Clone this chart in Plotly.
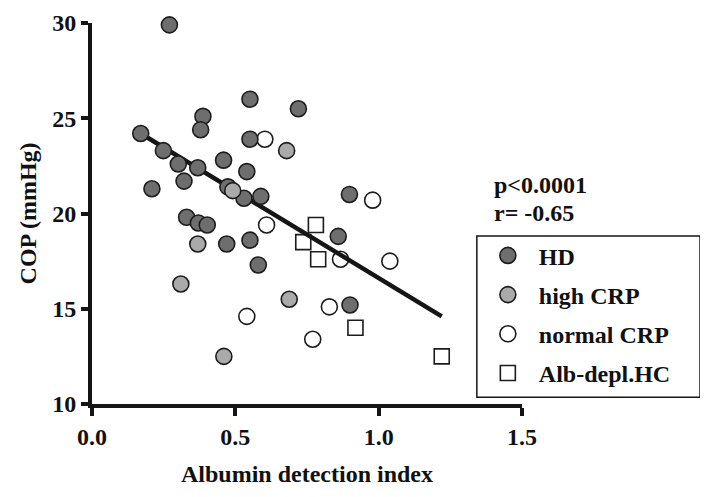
import plotly.graph_objects as go

# ---- data ----
hd_x = [0.270, 0.170, 0.249, 0.301, 0.369, 0.209, 0.321, 0.387, 0.379, 0.459,
        0.474, 0.530, 0.551, 0.551, 0.540, 0.589, 0.720, 0.898, 0.859, 0.900,
        0.330, 0.371, 0.402, 0.470, 0.551, 0.580]
hd_y = [29.9, 24.2, 23.3, 22.6, 22.4, 21.3, 21.7, 25.1, 24.4, 22.8,
        21.4, 20.8, 26.0, 23.9, 22.2, 20.9, 25.5, 21.0, 18.8, 15.2,
        19.8, 19.5, 19.4, 18.4, 18.6, 17.3]

hcrp_x = [0.491, 0.369, 0.310, 0.679, 0.688, 0.460]
hcrp_y = [21.2, 18.4, 16.3, 23.3, 15.5, 12.5]

ncrp_x = [0.603, 0.609, 0.540, 0.867, 0.828, 0.770, 0.979, 1.039]
ncrp_y = [23.9, 19.4, 14.6, 17.6, 15.1, 13.4, 20.7, 17.5]

alb_x = [0.781, 0.737, 0.789, 0.919, 1.220]
alb_y = [19.4, 18.5, 17.6, 14.0, 12.5]

fit_x = [0.17, 1.22]
fit_y = [24.2, 14.6]

x_ticks = [0.0, 0.5, 1.0, 1.5]
x_ticklabels = ["0.0", "0.5", "1.0", "1.5"]
y_ticks = [10, 15, 20, 25, 30]

stat_lines = ["p<0.0001", "r= -0.65"]

FONT = "Liberation Serif"
EDGE = "#1c1c1c"
FS = 24

fig = go.Figure()

fig.add_trace(go.Scatter(
    x=ncrp_x, y=ncrp_y, mode="markers", name="normal CRP", legendrank=3,
    marker=dict(symbol="circle", size=16, color="white", line=dict(color=EDGE, width=1.6)),
    cliponaxis=False))
fig.add_trace(go.Scatter(
    x=alb_x, y=alb_y, mode="markers", name="Alb-depl.HC", legendrank=4,
    marker=dict(symbol="square", size=15, color="white", line=dict(color=EDGE, width=1.6)),
    cliponaxis=False))
fig.add_trace(go.Scatter(
    x=fit_x, y=fit_y, mode="lines", showlegend=False, hoverinfo="skip",
    line=dict(color="#151515", width=4.5)))
fig.add_trace(go.Scatter(
    x=hd_x, y=hd_y, mode="markers", name="HD", legendrank=1,
    marker=dict(symbol="circle", size=16, color="#6e6e6e", line=dict(color=EDGE, width=1.6)),
    cliponaxis=False))
fig.add_trace(go.Scatter(
    x=hcrp_x, y=hcrp_y, mode="markers", name="high CRP", legendrank=2,
    marker=dict(symbol="circle", size=16, color="#aaaaaa", line=dict(color=EDGE, width=1.6)),
    cliponaxis=False))

tickfont = dict(family=FONT, size=FS, color="#111111", weight="bold")

fig.update_xaxes(
    range=[0, 1.5], tickvals=x_ticks, ticktext=x_ticklabels, automargin=False,
    showline=True, linecolor="#151515", linewidth=4,
    ticks="outside", ticklen=8, tickwidth=4, tickcolor="#151515",
    tickfont=tickfont, showgrid=False, zeroline=False)
fig.update_yaxes(
    range=[10, 30], tickvals=y_ticks, automargin=False,
    showline=True, linecolor="#151515", linewidth=4,
    ticks="outside", ticklen=7, tickwidth=4, tickcolor="#151515",
    tickfont=tickfont, showgrid=False, zeroline=False)

annots = [
    dict(text="Albumin detection index", x=0.5, y=-0.184, xref="paper", yref="paper",
         xanchor="center", yanchor="middle", showarrow=False,
         font=dict(family=FONT, size=FS, color="#111111", weight="bold")),
    dict(text="COP (mmHg)", x=-0.149, y=0.5, xref="paper", yref="paper", textangle=-90,
         xanchor="center", yanchor="middle", showarrow=False,
         font=dict(family=FONT, size=FS, color="#111111", weight="bold")),
]
for i, s in enumerate(stat_lines):
    annots.append(dict(text=s, x=0.930, y=0.575 - i * 0.074, xref="paper", yref="paper",
                       xanchor="left", yanchor="middle", showarrow=False,
                       font=dict(family=FONT, size=FS, color="#111111", weight="bold")))

# legend frame drawn as a shape so its extent matches the reference
legend_box = dict(type="rect", xref="paper", yref="paper",
                  x0=0.895, x1=1.414, y0=0.018, y1=0.441,
                  line=dict(color="#151515", width=1.5), fillcolor="white", layer="above")

fig.update_layout(
    width=692, height=481,
    margin=dict(l=84, r=178, t=15, b=85, autoexpand=False),
    plot_bgcolor="white", paper_bgcolor="white",
    annotations=annots,
    shapes=[legend_box],
    legend=dict(x=0.895, y=0.448, xanchor="left", yanchor="top",
                borderwidth=0, bgcolor="rgba(0,0,0,0)",
                font=dict(family=FONT, size=FS, color="#111111", weight="bold"),
                tracegroupgap=5, itemwidth=52, traceorder="grouped"),
)
for tr in fig.data:
    if tr.name:
        tr.legendgroup = tr.name

fig.write_html("out.html")
